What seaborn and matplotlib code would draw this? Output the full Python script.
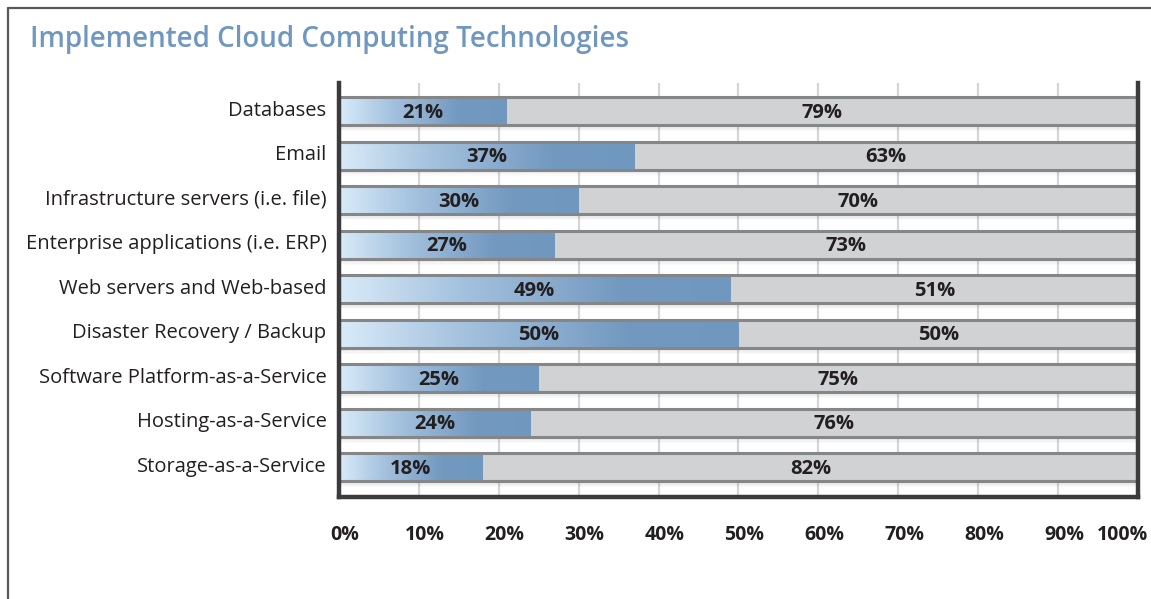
"""
Implemented Cloud Computing Technologies - stacked horizontal bar chart
"""
import numpy as np
import pandas as pd
import matplotlib
matplotlib.use('Agg')
import matplotlib.pyplot as plt
import matplotlib.transforms as mtransforms
from matplotlib.colors import LinearSegmentedColormap
import seaborn as sns

categories = ['Databases', 'Email', 'Infrastructure servers (i.e. file)',
              'Enterprise applications (i.e. ERP)', 'Web servers and Web-based',
              'Disaster Recovery / Backup', 'Software Platform-as-a-Service',
              'Hosting-as-a-Service', 'Storage-as-a-Service']
implemented = [21, 37, 30, 27, 49, 50, 25, 24, 18]
not_implemented = [79, 63, 70, 73, 51, 50, 75, 76, 82]
tick_values = [0, 10, 20, 30, 40, 50, 60, 70, 80, 90, 100]

df = pd.DataFrame({'category': categories,
                   'yes': implemented,
                   'no': not_implemented})
df['total'] = df['yes'] + df['no']

sns.set_style('white')
plt.rcParams['font.family'] = ['Open Sans', 'DejaVu Sans']

TEXT = '#231f20'
GRAY = '#d1d2d4'
EDGE = '#858688'
BLUE = '#7399c0'
LIGHT = '#d9ebf9'
BAR_H = 0.63

fig = plt.figure(figsize=(11.51, 5.99), dpi=100)
ax = fig.add_axes([0.2945, 0.1703, 0.6942, 0.6911])

# vertical grid lines
for v in tick_values[1:-1]:
    ax.axvline(v, color='#d6d6d6', lw=1.6, zorder=0)

# soft shadow under each bar
for i in range(len(categories)):
    for k, a in enumerate([0.10, 0.07, 0.045, 0.02]):
        y0 = i + BAR_H / 2 + 0.02 + k * 0.03
        ax.fill_between([0, 100], y0, y0 + 0.03, color='black', alpha=a,
                        lw=0, zorder=1)

# gray full bars
sns.barplot(data=df, x='total', y='category', orient='h', color=GRAY,
            saturation=1, width=BAR_H, edgecolor='none', ax=ax, zorder=2)

# blue bars, filled with a left-to-right gradient
n_before = len(ax.patches)
sns.barplot(data=df, x='yes', y='category', orient='h', color=BLUE,
            saturation=1, width=BAR_H, edgecolor='none', ax=ax, zorder=3)
blue_patches = ax.patches[n_before:]
cmap = LinearSegmentedColormap.from_list(
    'bluegrad', [(0, LIGHT), (0.3, '#a6c3df'), (0.72, BLUE), (1, '#7098bf')], N=256)
for p in blue_patches:
    x0, y0 = p.get_x(), p.get_y()
    w, h = p.get_width(), p.get_height()
    grad = np.linspace(0, 1, 256).reshape(1, -1)
    im = ax.imshow(grad, cmap=cmap, aspect='auto',
                   extent=[x0, x0 + w, y0 + h, y0], zorder=3.5)
    im.set_clip_path(p)

# top / bottom edges of the bars
for i in range(len(categories)):
    for yy in (i - BAR_H / 2, i + BAR_H / 2):
        ax.plot([0, 100], [yy, yy], color=EDGE, lw=2.2, zorder=4,
                solid_capstyle='butt')

# value labels
for i, (a, b) in enumerate(zip(implemented, not_implemented)):
    ax.text(a / 2, i + 0.04, f'{a}%', ha='center', va='center',
            fontsize=14.5, fontweight='bold', color=TEXT, zorder=5)
    ax.text(a + b / 2, i + 0.04, f'{b}%', ha='center', va='center',
            fontsize=14.5, fontweight='bold', color=TEXT, zorder=5)

ax.set_xlim(0, 100)
ax.set_ylim(len(categories) - 1 + 0.67, -0.63)
ax.set_xticks(tick_values)
ax.set_xticklabels([f'{v}%' for v in tick_values], fontsize=14,
                   fontweight='bold', color=TEXT)
ax.tick_params(axis='x', length=0, pad=20)
ax.tick_params(axis='y', length=0, pad=9)
ax.set_yticks(range(len(categories)))
ax.set_yticklabels(categories, fontsize=14.5, color=TEXT)
ax.set_xlabel('')
ax.set_ylabel('')

# small nudges of the tick labels (after tick_params, which resets transforms)
px = 1 / 100
xlabels = ax.get_xticklabels()
for lab in xlabels[:-1]:
    lab.set_transform(lab.get_transform() +
                      mtransforms.ScaledTranslation(6 * px, 0, fig.dpi_scale_trans))
xlabels[-1].set_horizontalalignment('right')
xlabels[-1].set_transform(xlabels[-1].get_transform() +
                          mtransforms.ScaledTranslation(10 * px, 0, fig.dpi_scale_trans))
for lab in ax.get_yticklabels():
    lab.set_transform(lab.get_transform() +
                      mtransforms.ScaledTranslation(0, 3 * px, fig.dpi_scale_trans))

for side in ('left', 'bottom', 'right'):
    ax.spines[side].set_color('#3b3b3d')
    ax.spines[side].set_linewidth(3.2)
    ax.spines[side].set_zorder(6)
ax.spines['top'].set_visible(False)

# title and outer frame
fig.text(30 / 1151, 1 - 40 / 599, 'Implemented Cloud Computing Technologies',
         fontsize=20, fontweight='semibold', color='#7097c0', ha='left', va='center')
fig.add_artist(plt.Line2D([8 / 1151, 8 / 1151], [0, 1 - 8 / 599],
                          transform=fig.transFigure, color='#58595b', lw=1.6))
fig.add_artist(plt.Line2D([8 / 1151, 1], [1 - 8 / 599, 1 - 8 / 599],
                          transform=fig.transFigure, color='#58595b', lw=1.6))

plt.savefig('out.png', dpi=100)
plt.close()
